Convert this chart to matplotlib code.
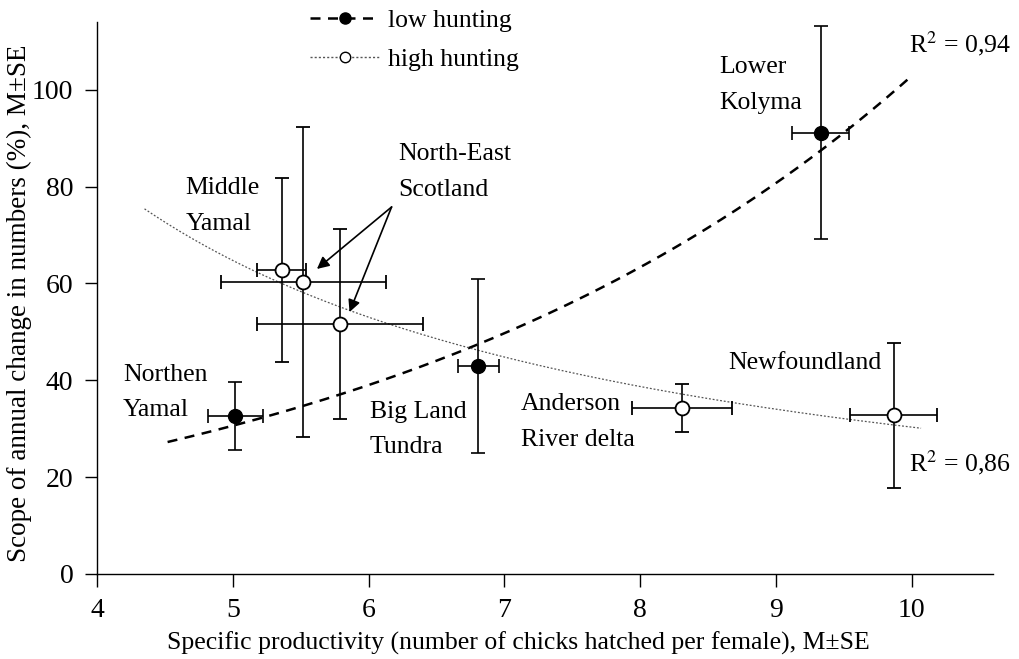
import numpy as np
import matplotlib
matplotlib.use('Agg')
import matplotlib.pyplot as plt
from matplotlib.lines import Line2D

plt.rcParams['font.family'] = ['Liberation Serif', 'DejaVu Serif']
plt.rcParams['mathtext.fontset'] = 'stix'

# low hunting sites
low_names = ['Northen\nYamal', 'Big Land\nTundra', 'Lower\nKolyma']
low_x = [5.02, 6.81, 9.33]
low_xerr = [0.20, 0.15, 0.21]
low_y = [32.6, 43.0, 91.1]
low_yerr = [7.0, 18.0, 22.0]

# high hunting sites
high_names = ['Middle Yamal', 'North-East Scotland', 'North-East Scotland',
              'Anderson River delta', 'Newfoundland']
high_x = [5.36, 5.52, 5.79, 8.31, 9.87]
high_xerr = [0.18, 0.61, 0.61, 0.37, 0.32]
high_y = [62.8, 60.3, 51.6, 34.3, 32.8]
high_yerr = [19.0, 32.0, 19.6, 5.0, 15.0]

fig = plt.figure(figsize=(10.19, 6.59), dpi=100)
ax = fig.add_axes([0.0952, 0.129, 0.8793, 0.8376])

# trend lines (fits to the points)
b, loga = np.polyfit(low_x, np.log(low_y), 1)
xs = np.linspace(4.52, 10.0, 200)
ax.plot(xs, np.exp(loga) * np.exp(b * xs), color='black', lw=1.8,
        ls=(0, (4, 3)), zorder=1)

p, logc = np.polyfit(np.log(high_x), np.log(high_y), 1)
xs2 = np.linspace(4.35, 10.07, 200)
ax.plot(xs2, np.exp(logc) * xs2 ** p, color='#555555', lw=0.9,
        ls=(0, (1.5, 1.5)), zorder=1)

ekw = dict(ecolor='black', elinewidth=1.2, capsize=5, capthick=1.2, ls='none')
ax.errorbar(low_x, low_y, xerr=low_xerr, yerr=low_yerr, marker='o', ms=10,
            mfc='black', mec='black', zorder=3, **ekw)
ax.errorbar(high_x, high_y, xerr=high_xerr, yerr=high_yerr, marker='o', ms=10,
            mfc='white', mec='black', mew=1.3, zorder=3, **ekw)

fs = 18.5
def lbl(x, y, s):
    ax.text(x, y, s, fontsize=fs, ha='left', va='center', linespacing=1.8)

lbl(4.19, 37.5, 'Northen\nYamal')
lbl(6.01, 29.8, 'Big Land\nTundra')
lbl(8.58, 101.0, 'Lower\nKolyma')
lbl(4.65, 76.0, 'Middle\nYamal')
lbl(6.22, 83.0, 'North-East\nScotland')
lbl(7.12, 31.4, 'Anderson\nRiver delta')
lbl(8.65, 43.6, 'Newfoundland')
lbl(9.98, 109.5, 'R$^2$ = 0,94')
lbl(9.98, 23.0, 'R$^2$ = 0,86')

for tx, ty in [(5.62, 63.0), (5.86, 54.1)]:
    ax.annotate('', xy=(tx, ty), xytext=(6.17, 75.8),
                arrowprops=dict(arrowstyle='-|>', color='black', lw=1.2,
                                mutation_scale=18, shrinkA=0, shrinkB=0))

handles = [
    Line2D([], [], color='black', ls=(0, (4, 3)), lw=1.8, marker='o', ms=8,
           mfc='black', mec='black'),
    Line2D([], [], color='#555555', ls=(0, (1.5, 1.5)), lw=1.0, marker='o',
           ms=7.5, mfc='white', mec='black'),
]
ax.legend(handles, ['low hunting', 'high hunting'], loc='upper left',
          bbox_to_anchor=(0.212, 1.065), frameon=False, fontsize=fs,
          handlelength=2.7, handletextpad=0.35, labelspacing=0.6)

ax.set_xlim(4, 10.6)
ax.set_ylim(0, 114)
ax.set_xticks(range(4, 11))
ax.set_yticks(range(0, 101, 20))
ax.spines['top'].set_visible(False)
ax.spines['right'].set_visible(False)
for s in ['left', 'bottom']:
    ax.spines[s].set_linewidth(1.0)
ax.tick_params(labelsize=20, length=9, width=1.0, pad=8)

ax.set_xlabel('Specific productivity (number of chicks hatched per female), M±SE',
              fontsize=fs)
ax.xaxis.set_label_coords(0.47, -0.105)
ax.set_ylabel('Scope of annual change in numbers (%), M±SE', fontsize=19.5)
ax.yaxis.set_label_coords(-0.0725, 0.49)

fig.savefig('out.png', dpi=100)
